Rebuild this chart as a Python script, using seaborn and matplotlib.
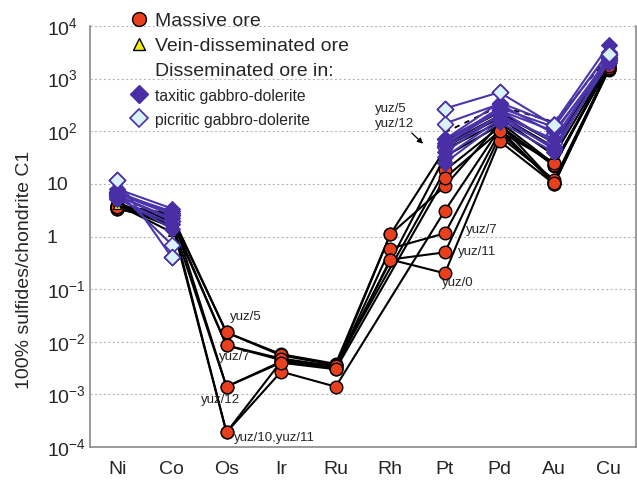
import numpy as np
import pandas as pd
import matplotlib
matplotlib.use("Agg")
import matplotlib.pyplot as plt
from matplotlib.lines import Line2D
from matplotlib.ticker import FixedLocator, FuncFormatter, NullFormatter
import seaborn as sns

# ---------------------------------------------------------------------------
# Chondrite-normalised metal contents recalculated to 100 % sulfides
# ---------------------------------------------------------------------------
elements = ["Ni", "Co", "Os", "Ir", "Ru", "Rh", "Pt", "Pd", "Au", "Cu"]
nan = np.nan

massive_ore = {
    "yuz/5":  [3.6, 2.4, 0.015,   0.0058, 0.0038, 1.1,   45,   150, 24,   1700],
    "yuz/7":  [3.4, 2.0, 0.0085,  0.0045, 0.0032, 0.59,  1.15, 95,  11,   1500],
    "yuz/12": [3.9, 2.7, 0.0014,  0.0042, 0.0035, nan,   33,   130, 22,   1800],
    "yuz/10": [3.5, 1.8, 0.00019, 0.0027, 0.0014, nan,   3.1,  110, 10,   1450],
    "yuz/11": [3.3, 2.1, 0.00019, 0.0042, 0.0031, 0.365, 0.5,  80,  12,   1550],
    "yuz/0":  [3.6, 1.9, nan,     nan,    nan,    0.365, 0.2,  65,  10,   1500],
    "yuz/2":  [3.7, 2.5, 0.015,   0.0055, 0.0036, nan,   18,   120, 23,   1900],
    "yuz/3":  [3.8, 2.2, 0.0085,  0.0048, 0.0034, 1.1,   9,    140, 10.5, 1600],
    "yuz/4":  [3.6, 1.9, 0.0014,  0.0040, 0.0030, nan,   13,   100, 25,   1700],
}

vein_ore = {
    "v1": [4.0, 1.2, nan, nan, nan, nan, 55, 200, 50, 2000],
    "v2": [4.5, 1.6, nan, nan, nan, nan, 65, 230, 60, 2200],
    "v3": [3.9, 1.5, nan, nan, nan, nan, 50, 180, 35, 1900],
}

# average vein-disseminated ore, drawn dashed without symbols
vein_average = [nan, nan, nan, nan, nan, nan, 95, 300, 150, 2600]

taxitic = {
    "t1": [8.0, 3.4, nan, nan, nan, nan, 70, 350, 140, 4300],
    "t2": [6.5, 3.0, nan, nan, nan, nan, 55, 250, 100, 2200],
    "t3": [5.5, 1.4, nan, nan, nan, nan, 40, 200, 70,  2500],
    "t4": [6.0, 2.2, nan, nan, nan, nan, 32, 170, 50,  2000],
    "t5": [7.0, 2.8, nan, nan, nan, nan, 25, 150, 40,  2600],
    "t6": [5.2, 1.7, nan, nan, nan, nan, 60, 280, 120, 3200],
}

picritic = {
    "p1": [12.0, 0.4, nan, nan, nan, nan, 270, 550, 130, 3000],
    "p2": [7.0,  0.7, nan, nan, nan, nan, 140, 330, 90,  2500],
    "p3": [6.0,  2.0, nan, nan, nan, nan, 70,  250, 60,  2800],
    "p4": [6.5,  2.6, nan, nan, nan, nan, 50,  200, 45,  2300],
}

tick_exponents = [-4, -3, -2, -1, 0, 1, 2, 3, 4]


def long_table(samples):
    """Long-form table; a line bridges one missing element but breaks on longer gaps."""
    rows = []
    for name, vals in samples.items():
        seg, last = 0, None
        for i, v in enumerate(vals):
            if np.isnan(v):
                continue
            if last is not None and i - last > 2:
                seg += 1
            rows.append((name, f"{name}#{seg}", i, v))
            last = i
    return pd.DataFrame(rows, columns=["sample", "segment", "pos", "value"])


sns.set_style("white")
plt.rcParams["font.family"] = ["Liberation Sans", "DejaVu Sans"]
plt.rcParams["mathtext.fontset"] = "custom"
plt.rcParams["mathtext.rm"] = "Liberation Sans"

RED = "#e8401c"
PURPLE = "#4a2ea6"
PURPLE_LINE = "#4b35aa"
LIGHT = "#d9f3fb"
YELLOW = "#f2ec10"

fig = plt.figure(figsize=(6.37, 4.88), dpi=100)
ax = fig.add_axes([90 / 637, 41 / 488, 546 / 637, 421 / 488])
ax.set_yscale("log")

d_mass = long_table(massive_ore)
d_vein = long_table(vein_ore)
d_avg = long_table({"avg": vein_average})
d_tax = long_table(taxitic)
d_pic = long_table(picritic)

line_kw = dict(x="pos", y="value", units="segment", estimator=None, sort=False,
               legend=False, ax=ax)
LW = 1.5

sns.lineplot(data=d_mass, color="black", lw=LW, zorder=2, **line_kw)
sns.scatterplot(data=d_mass, x="pos", y="value", marker="o", s=82, color=RED,
                edgecolor="black", linewidth=1.0, zorder=3, legend=False, ax=ax)

sns.lineplot(data=d_vein, color="black", lw=LW, zorder=4, **line_kw)
sns.scatterplot(data=d_vein, x="pos", y="value", marker="^", s=32, color=YELLOW,
                edgecolor="black", linewidth=0.8, zorder=5, legend=False, ax=ax)
sns.lineplot(data=d_avg, color="black", lw=1.3, linestyle=(0, (3, 3)), zorder=5, **line_kw)

sns.lineplot(data=d_pic, color=PURPLE_LINE, lw=LW, zorder=6, **line_kw)
sns.scatterplot(data=d_pic, x="pos", y="value", marker="D", s=66, color=LIGHT,
                edgecolor=PURPLE, linewidth=1.2, zorder=7, legend=False, ax=ax)

sns.lineplot(data=d_tax, color=PURPLE_LINE, lw=LW, zorder=8, **line_kw)
sns.scatterplot(data=d_tax, x="pos", y="value", marker="D", s=66, color=PURPLE,
                edgecolor=PURPLE, linewidth=0.8, zorder=9, legend=False, ax=ax)

# the most Ni-rich picritic sample stays on top of the cluster
top = d_pic[d_pic["sample"] == "p1"]
sns.scatterplot(data=top, x="pos", y="value", marker="D", s=66, color=LIGHT,
                edgecolor=PURPLE, linewidth=1.2, zorder=10, legend=False, ax=ax)

# axes, ticks and grid
ax.set_xlim(-0.5, len(elements) - 0.5)
ax.set_ylim(1e-4, 1e4)
ax.xaxis.set_major_locator(FixedLocator(np.arange(-0.5, len(elements), 1.0)))
ax.xaxis.set_major_formatter(NullFormatter())
ax.xaxis.set_minor_locator(FixedLocator(np.arange(len(elements))))
ax.set_xticklabels(elements, minor=True)
ax.tick_params(axis="x", which="major", length=5, width=0.9, color="#8a8a8a", direction="out")
ax.tick_params(axis="x", which="minor", length=0, pad=10, labelsize=14)


def exp_label(v, _pos):
    e = int(round(np.log10(v)))
    if e == 0:
        return "1"
    if e == 1:
        return "10"
    return r"$\mathregular{10^{%d}}$" % e


ax.yaxis.set_major_locator(FixedLocator([10.0 ** e for e in tick_exponents]))
ax.yaxis.set_major_formatter(FuncFormatter(exp_label))
ax.yaxis.set_minor_locator(FixedLocator([]))
ax.tick_params(axis="y", which="major", length=0, pad=31, labelsize=14)
for lbl in ax.get_yticklabels():
    lbl.set_horizontalalignment("left")

ax.set_xlabel("")
ax.set_ylabel("100% sulfides/chondrite C1", fontsize=14)
ax.yaxis.set_label_coords(-0.105, 0.42)

ax.grid(False)
ax.yaxis.grid(True, which="major", linestyle=(0, (2, 2)), color="#b8b8b8", lw=0.8)
ax.set_axisbelow(True)
for side in ("left", "bottom", "right"):
    ax.spines[side].set_color("#8a8a8a")
    ax.spines[side].set_linewidth(1.2)
ax.spines["top"].set_visible(False)

# sample labels
lab_kw = dict(textcoords="offset pixels", fontsize=9.5, va="center", ha="left", zorder=12)
ax.annotate("yuz/5", (2, massive_ore["yuz/5"][2]), xytext=(3, 15), **lab_kw)
ax.annotate("yuz/7", (2, massive_ore["yuz/7"][2]), xytext=(-8, -12), **lab_kw)
ax.annotate("yuz/12", (2, massive_ore["yuz/12"][2]), xytext=(-26, -13), **lab_kw)
ax.annotate("yuz/10,yuz/11", (2, massive_ore["yuz/10"][2]), xytext=(7, -6), **lab_kw)
ax.annotate("yuz/7", (6, massive_ore["yuz/7"][6]), xytext=(21, 3), **lab_kw)
ax.annotate("yuz/11", (6, massive_ore["yuz/11"][6]), xytext=(13, 0), **lab_kw)
ax.annotate("yuz/0", (6, massive_ore["yuz/0"][6]), xytext=(-3, -10), **lab_kw)
ax.annotate("yuz/5\nyuz/12", xy=(5.6, 58), xytext=(4.72, 190), textcoords="data",
            fontsize=9.5, ha="left", va="center", linespacing=1.25, zorder=12,
            arrowprops=dict(arrowstyle="-|>", color="black", lw=0.9,
                            shrinkA=16, shrinkB=0, mutation_scale=8))

# legend
handles = [
    Line2D([], [], ls="none", marker="o", ms=10, mfc=RED, mec="black", mew=1.0),
    Line2D([], [], ls="none", marker="^", ms=8, mfc=YELLOW, mec="black", mew=1.0),
    Line2D([], [], ls="none"),
    Line2D([], [], ls="none", marker="D", ms=9, mfc=PURPLE, mec=PURPLE),
    Line2D([], [], ls="none", marker="D", ms=9, mfc=LIGHT, mec=PURPLE, mew=1.2),
]
labels = ["Massive ore", "Vein-disseminated ore", "Disseminated ore in:",
          "taxitic gabbro-dolerite", "picritic gabbro-dolerite"]
leg = ax.legend(handles, labels, loc="upper left", bbox_to_anchor=(131 / 637, 1 - 12 / 488),
                bbox_transform=fig.transFigure, frameon=False, fontsize=14,
                handlelength=0.85, handletextpad=0.4, labelspacing=0.38, borderpad=0,
                borderaxespad=0)
for t, size in zip(leg.get_texts(), [14, 14, 14, 11.3, 11.3]):
    t.set_fontsize(size)

fig.savefig("out.png", dpi=100)
